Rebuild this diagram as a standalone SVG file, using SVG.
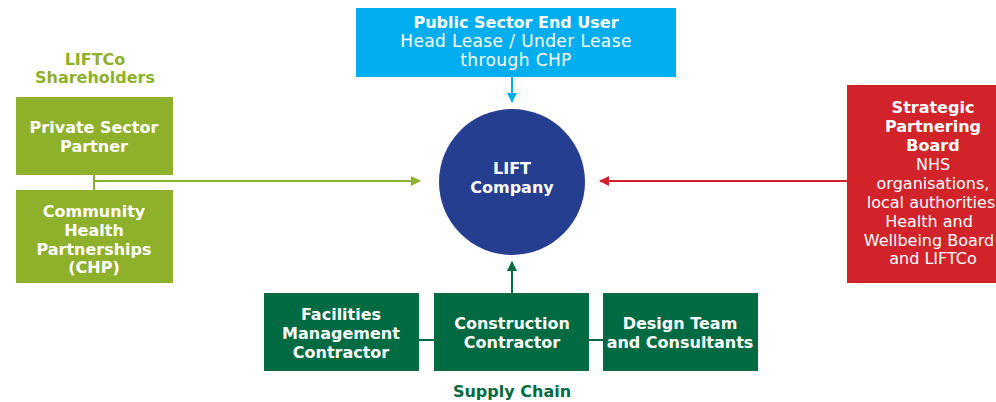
<svg xmlns="http://www.w3.org/2000/svg" width="996" height="402" viewBox="0 0 996 402">
<style>
text{font-family:"DejaVu Sans","Liberation Sans",sans-serif;text-anchor:middle;font-size:16px}
.b{font-weight:bold}
.w{fill:#ffffff}
.lt{fill:#ffffff;font-weight:normal}
.big{font-size:17px;letter-spacing:0.4px}
</style>
<defs>
<marker id="ag" markerWidth="10" markerHeight="10" refX="9" refY="5" orient="auto" markerUnits="userSpaceOnUse"><path d="M0,0 L10,5 L0,10 z" fill="#8fb02b"/></marker>
<marker id="ar" markerWidth="10" markerHeight="10" refX="9" refY="5" orient="auto" markerUnits="userSpaceOnUse"><path d="M0,0 L10,5 L0,10 z" fill="#d2232a"/></marker>
<marker id="ab" markerWidth="10" markerHeight="10" refX="9" refY="5" orient="auto" markerUnits="userSpaceOnUse"><path d="M0,0 L10,5 L0,10 z" fill="#00aeef"/></marker>
<marker id="ad" markerWidth="10" markerHeight="10" refX="9" refY="5" orient="auto" markerUnits="userSpaceOnUse"><path d="M0,0 L10,5 L0,10 z" fill="#006a42"/></marker>
</defs>
<rect width="996" height="402" fill="#fff"/>
<g id="connectors" fill="none" stroke-width="2">
<line x1="94" y1="175" x2="94" y2="190" stroke="#8fb02b"/>
<line x1="94" y1="181" x2="420" y2="181" stroke="#8fb02b" marker-end="url(#ag)"/>
<line x1="847" y1="181" x2="600" y2="181" stroke="#d2232a" marker-end="url(#ar)"/>
<line x1="512" y1="77" x2="512" y2="102" stroke="#00aeef" marker-end="url(#ab)"/>
<line x1="512" y1="293" x2="512" y2="262" stroke="#006a42" marker-end="url(#ad)"/>
<line x1="419" y1="340" x2="434" y2="340" stroke="#006a42"/>
<line x1="589" y1="340" x2="603" y2="340" stroke="#006a42"/>
</g>
<g id="shareholders-label">
<text x="95" y="65" class="b" fill="#8fb02b" font-size="15">LIFTCo</text>
<text x="95" y="83" class="b" fill="#8fb02b" font-size="15">Shareholders</text>
</g>
<g id="private-sector">
<rect x="16" y="97" width="157" height="78" fill="#8fb02b"/>
<text x="94" y="133" class="b w">Private Sector</text>
<text x="94" y="152" class="b w">Partner</text>
</g>
<g id="chp">
<rect x="16" y="190" width="157" height="93" fill="#8fb02b"/>
<text x="94" y="217" class="b w">Community</text>
<text x="94" y="236" class="b w">Health</text>
<text x="94" y="255" class="b w">Partnerships</text>
<text x="94" y="273" class="b w">(CHP)</text>
</g>
<g id="public-sector">
<rect x="356" y="8" width="320" height="69" fill="#00aeef"/>
<text x="516" y="28" class="b w">Public Sector End User</text>
<text x="516" y="47" class="lt big">Head Lease / Under Lease</text>
<text x="516" y="66" class="lt big">through CHP</text>
</g>
<g id="lift-company">
<circle cx="512" cy="182" r="73" fill="#253e8f"/>
<text x="512" y="174" class="b w">LIFT</text>
<text x="512" y="193" class="b w">Company</text>
</g>
<g id="strategic-board">
<rect x="847" y="85" width="155" height="198" fill="#d2232a"/>
<text x="933" y="113" class="b w">Strategic</text>
<text x="933" y="132" class="b w">Partnering</text>
<text x="933" y="151" class="b w">Board</text>
<text x="933" y="170" class="lt">NHS</text>
<text x="933" y="189" class="lt">organisations,</text>
<text x="931" y="208" class="lt">local authorities</text>
<text x="929" y="227" class="lt">Health and</text>
<text x="929" y="246" class="lt">Wellbeing Board</text>
<text x="933" y="264" class="lt">and LIFTCo</text>
</g>
<g id="facilities">
<rect x="264" y="293" width="155" height="78" fill="#006a42"/>
<text x="341" y="320" class="b w">Facilities</text>
<text x="341" y="339" class="b w">Management</text>
<text x="341" y="358" class="b w">Contractor</text>
</g>
<g id="construction">
<rect x="434" y="293" width="155" height="78" fill="#006a42"/>
<text x="512" y="329" class="b w">Construction</text>
<text x="512" y="348" class="b w">Contractor</text>
</g>
<g id="design">
<rect x="603" y="293" width="155" height="78" fill="#006a42"/>
<text x="680" y="329" class="b w">Design Team</text>
<text x="680" y="348" class="b w">and Consultants</text>
</g>
<g id="supply-chain-label">
<text x="512" y="397" class="b" fill="#006a42">Supply Chain</text>
</g>
</svg>
